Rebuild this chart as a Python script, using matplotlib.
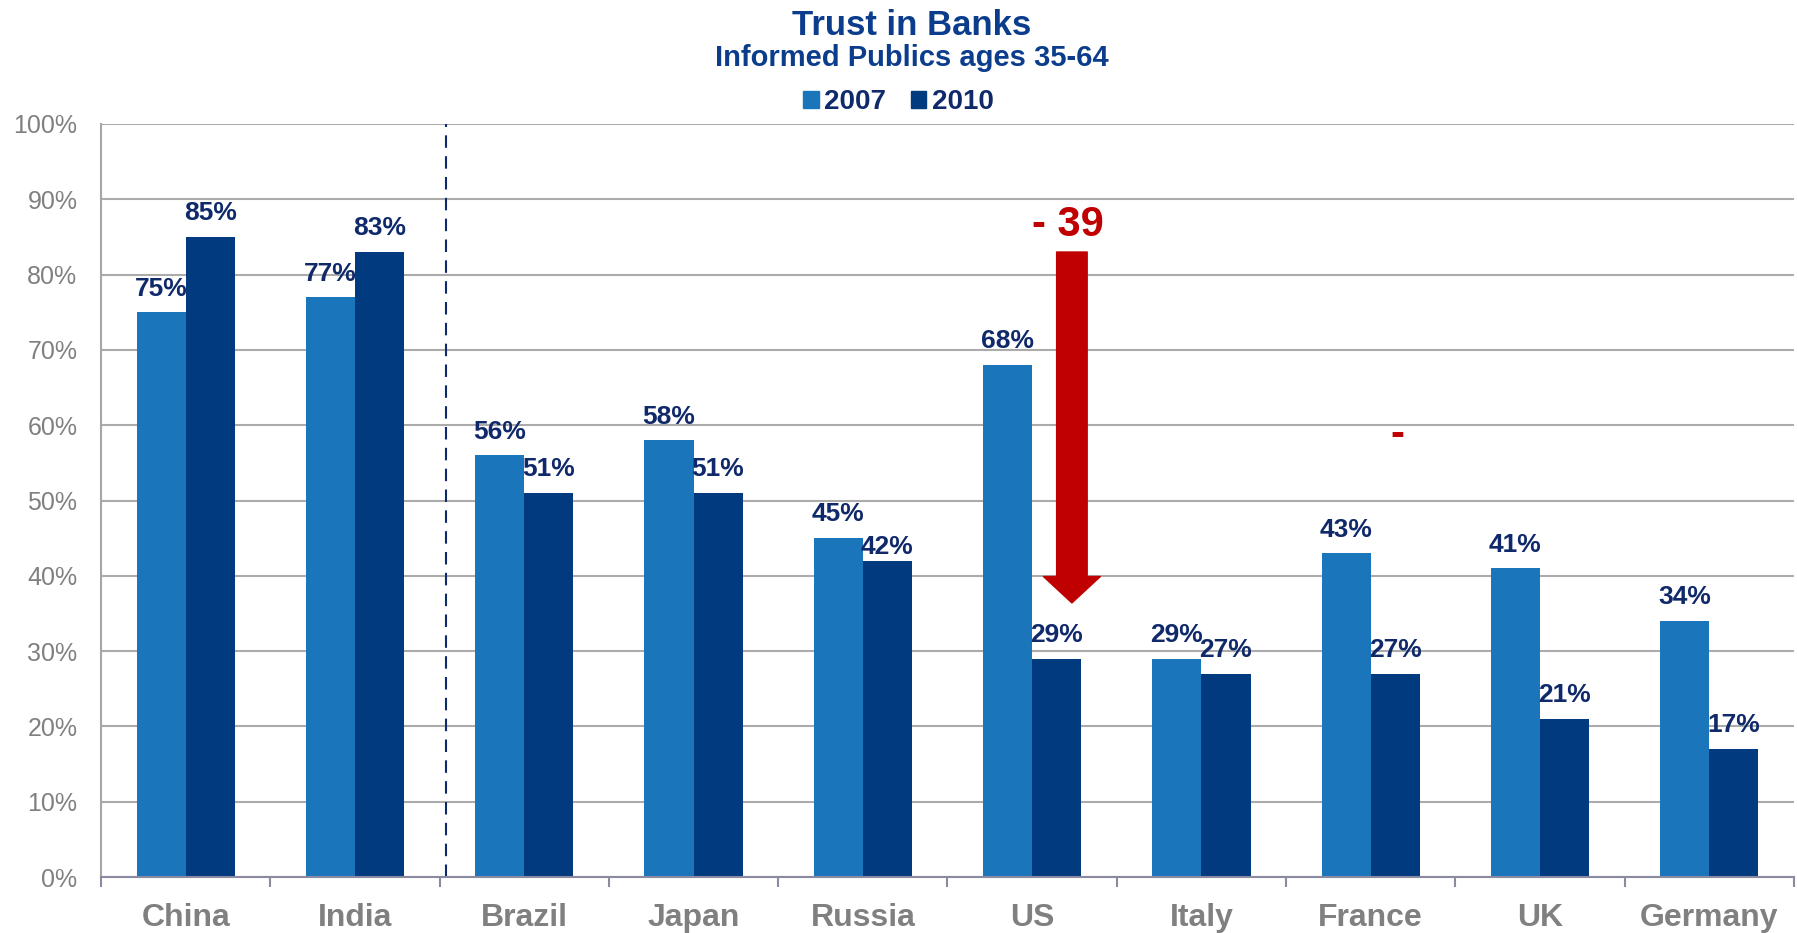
import matplotlib
matplotlib.use('Agg')
import matplotlib.pyplot as plt
import numpy as np
from matplotlib.patches import Patch

plt.rcParams['font.family'] = ['Liberation Sans', 'DejaVu Sans']

# Trust in banks, informed publics aged 35-64
countries = ['China', 'India', 'Brazil', 'Japan', 'Russia', 'US', 'Italy', 'France', 'UK', 'Germany']
trust_2007 = [75, 77, 56, 58, 45, 68, 29, 43, 41, 34]
trust_2010 = [85, 83, 51, 51, 42, 29, 27, 27, 21, 17]
years = ['2007', '2010']

light_blue = '#1B75BB'
dark_blue = '#023A7F'
label_navy = '#10296A'
title_blue = '#0B3D8C'
red = '#C00000'
grid_gray = '#ABABAB'

fig = plt.figure(figsize=(17.97, 9.33), dpi=100)
ax = fig.add_axes([0.0562, 0.0600, 0.9421, 0.8071])

x = np.arange(len(countries))
w = 0.29
ax.bar(x - w / 2, trust_2007, w, color=light_blue, zorder=3)
ax.bar(x + w / 2, trust_2010, w, color=dark_blue, zorder=3)

# value labels above each bar (Russia 2010 sits lower to clear the 45% label)
offset_2010 = {'Russia': 5}
for xi, v in zip(x - w / 2, trust_2007):
    ax.annotate(f'{v}%', (xi, v), xytext=(0, 12), textcoords='offset points',
                ha='center', va='baseline', fontsize=19, fontweight='bold',
                color=label_navy, zorder=5)
for c, xi, v in zip(countries, x + w / 2, trust_2010):
    ax.annotate(f'{v}%', (xi, v), xytext=(0, offset_2010.get(c, 12)),
                textcoords='offset points', ha='center', va='baseline',
                fontsize=19, fontweight='bold', color=label_navy, zorder=5)

ax.set_xlim(-0.5, len(countries) - 0.5)
ax.set_ylim(0, 100)

# y axis
ax.set_yticks(np.arange(0, 101, 10))
ax.set_yticklabels([f'{t}%' for t in range(0, 101, 10)])
ax.tick_params(axis='y', length=0, pad=17, labelsize=18, labelcolor='#808080')
ax.yaxis.grid(True, color=grid_gray, linewidth=1.5, zorder=0)

# x axis: ticks at category boundaries, labels at centres
ax.set_xticks(np.arange(-0.5, len(countries), 1.0))
ax.set_xticklabels([])
ax.set_xticks(x, minor=True)
ax.set_xticklabels(countries, minor=True)
ax.tick_params(axis='x', which='major', length=7, width=1.5, color='#8A8AA0', direction='out')
ax.tick_params(axis='x', which='minor', length=0, pad=19, labelsize=23, labelcolor='#808080')
for lab in ax.get_xticklabels(minor=True):
    lab.set_fontweight('bold')

for s in ['top', 'right']:
    ax.spines[s].set_visible(False)
ax.spines['left'].set_color('#A6A6A6')
ax.spines['left'].set_linewidth(1.5)
ax.spines['bottom'].set_color('#8A8AA0')
ax.spines['bottom'].set_linewidth(1.5)
ax.spines['bottom'].set_zorder(4)

# separator between the two leaders and the rest
ax.axvline(1.535, color='#0E2A6A', linewidth=1.5, linestyle=(0, (6, 4)), zorder=2)

# US drop arrow
us = countries.index('US')
drop = trust_2007[us] - trust_2010[us]
ax.annotate('', xy=(us + 0.235, 36.4), xytext=(us + 0.235, 83),
            arrowprops=dict(arrowstyle='simple, head_length=1.9, head_width=4.1, tail_width=2.2',
                            mutation_scale=10, color=red, shrinkA=0, shrinkB=0),
            zorder=6)
ax.text(us + 0.212, 86.6, f'- {drop}', ha='center', va='center', fontsize=30,
        fontweight='bold', color=red, zorder=6)
ax.text(countries.index('France') + 0.155, 58.7, '-', ha='center', va='center',
        fontsize=30, fontweight='bold', color=red, zorder=6)

# titles and legend
fig.text(0.5075, 0.9725, 'Trust in Banks', ha='center', va='center', fontsize=25,
         fontweight='bold', color=title_blue)
fig.text(0.5075, 0.9375, 'Informed Publics ages 35-64', ha='center', va='center',
         fontsize=21, fontweight='bold', color=title_blue)
handles = [Patch(color=light_blue), Patch(color=dark_blue)]
leg = fig.legend(handles, years, loc='center', bbox_to_anchor=(0.5, 0.8905), ncol=2,
                 frameon=False, fontsize=20, handlelength=0.55, handleheight=0.55,
                 handletextpad=0.2, columnspacing=0.9)
for t in leg.get_texts():
    t.set_fontweight('bold')
    t.set_color(label_navy)

fig.savefig('out.png', dpi=100)
